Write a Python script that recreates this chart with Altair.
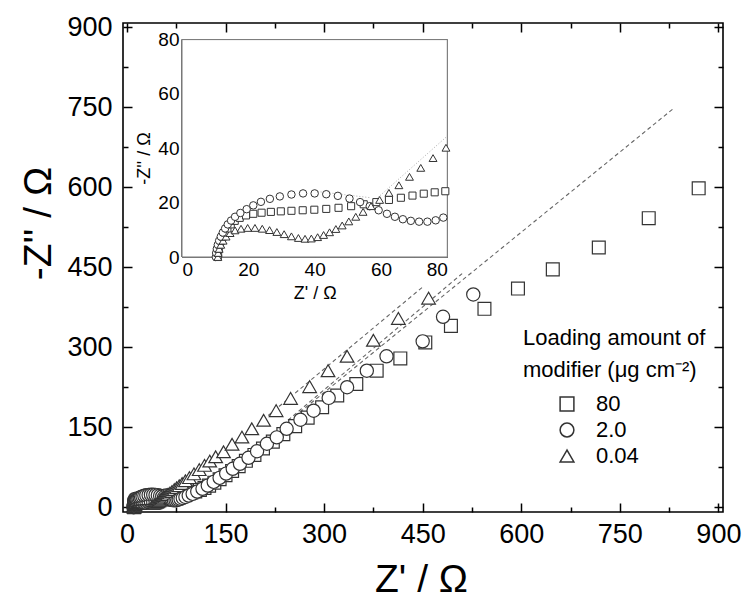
import altair as alt
import pandas as pd

# ---------------- data (Z' , -Z'' in ohm) ----------------
series_names = ["80", "2.0", "0.04"]
series_shapes = ["square", "circle", "triangle-up"]
series_sizes = [165, 185, 230]
inset_sizes = [50, 62, 80]

sq_x = [10.8, 10.9, 11.1, 11.4, 11.8, 12.3, 12.9, 13.7, 14.7, 15.9, 17.4, 19.3, 21.5, 24.0, 26.8,
        29.8, 33.0, 36.4, 39.9, 43.5, 47.2, 51.0, 54.8, 58.6, 62.4, 66.0, 69.5, 72.9, 76.2, 79.4,
        83, 87, 92, 98, 104, 111, 118, 125, 133, 141, 150, 160, 170, 181, 194, 207, 222, 238, 256,
        275, 297, 320, 349, 380, 416, 454, 493, 544, 595, 648, 718, 794, 870]
sq_y = [0, 1.5, 3, 4.5, 6, 7.5, 9, 10.5, 12, 13.3, 14.4, 15.3, 15.9, 16.3, 16.6,
        16.8, 17.0, 17.2, 17.4, 17.7, 18.1, 18.7, 19.4, 20.2, 21.0, 21.8, 22.6, 23.3, 23.8, 24.2,
        24.7, 25.2, 26, 27.5, 29.5, 32.5, 36, 40.5, 46, 52.5, 60, 68, 77, 87, 98, 110, 123, 137, 152,
        168, 187.5, 209.5, 231, 256, 279, 309, 340, 372, 410, 446, 487, 542, 598]

ci_x = [10.2, 10.3, 10.5, 10.8, 11.2, 11.7, 12.3, 13.0, 13.8, 14.8, 16.0, 17.6, 19.5, 21.5, 23.8,
        26.5, 29.5, 33.0, 36.5, 40.0, 43.5, 47.0, 50.5, 53.7, 56.6, 59.3, 61.8, 64.2, 66.6, 69.0,
        71.5, 74.0, 76.5, 78.8,
        81.5, 85, 89, 94, 100, 107, 115, 123, 132, 141, 151, 161, 172, 185, 198, 213, 228, 243,
        264, 284, 307, 335, 365, 395, 450, 481, 527]
ci_y = [0, 1.5, 3, 4.5, 6, 7.5, 9, 10.5, 12, 13.4, 14.8, 16.2, 17.6, 19.0, 20.3,
        21.4, 22.3, 23.0, 23.4, 23.4, 23.1, 22.5, 21.5, 20.2, 18.7, 17.2, 15.9, 14.8, 13.9, 13.3,
        13.0, 13.0, 13.5, 14.5,
        15.8, 17.3, 19.2, 21.8, 25, 29.3, 34.5, 40.5, 47.5, 55, 63, 72, 81.4, 92.6, 105, 119, 131, 147,
        164, 181, 205, 225, 256, 283, 311, 357, 399]

tr_x = [10.8, 10.9, 11.2, 11.7, 12.4, 13.3, 14.5, 16.0, 17.8, 19.8, 22.0, 24.2, 26.4, 28.6, 30.8,
        33.0, 35.1, 37.1, 39.0, 40.9, 42.7, 44.5, 46.4, 48.3, 50.3, 52.4, 54.6, 57.0, 59.6, 62.4,
        65.4, 68.6, 72.0, 75.7, 79.6,
        84, 89, 95, 102, 110, 118, 126, 135, 147, 160, 175, 190, 208, 227, 249, 278, 306, 335,
        375, 413, 459]
tr_y = [0, 1.5, 3, 4.5, 6, 7.5, 8.8, 9.8, 10.4, 10.7, 10.7, 10.4, 9.9, 9.2, 8.4,
        7.6, 7.0, 6.7, 6.8, 7.3, 8.1, 9.1, 10.3, 11.6, 13.1, 14.8, 16.6, 18.7, 21.0, 23.6,
        26.4, 29.5, 32.8, 36.4, 40.2,
        44.5, 49.5, 55.5, 62.5, 70.5, 78.5, 86.5, 94.5, 104, 118, 131.5, 147, 163, 181, 204, 226, 256, 283,
        313, 354, 392]

# linear (Warburg) fits drawn as dashed lines in the main plot
fit_name = ["80", "80", "2.0", "2.0", "0.04", "0.04"]
fit_x = [255, 831, 245, 510, 215, 451]
fit_y = [170, 747, 163, 438, 172, 414]

# faint dotted fit curves in the inset
ifit_name = ["0.04", "0.04", "2.0", "2.0"]
ifit_x = [55, 80, 40, 57]
ifit_y = [17.5, 44.5, 24.2, 21.8]

main_x_ticks = [0, 150, 300, 450, 600, 750, 900]
main_x_minor = [75, 225, 375, 525, 675, 825]
main_y_ticks = [0, 150, 300, 450, 600, 750, 900]
main_y_minor = [75, 225, 375, 525, 675, 825]
inset_ticks = [0, 10, 20, 30, 40, 50, 60, 70, 80]
inset_domain = [0, 80]

# ---------------- tables ----------------
rows = []
for name, xs, ys in zip(series_names, [sq_x, ci_x, tr_x], [sq_y, ci_y, tr_y]):
    for i, (a, b) in enumerate(zip(xs, ys)):
        rows.append({"zr": a, "zi": b, "s": name, "i": i})
pts = pd.DataFrame(rows)
inset_pts = pts[(pts.zr <= 80.5) & (pts.zi <= 80)]
fits = pd.DataFrame({"zr": fit_x, "zi": fit_y, "s": fit_name})
ifits = pd.DataFrame({"zr": ifit_x, "zi": ifit_y, "s": ifit_name})

# ---------------- geometry of panels ----------------
W, H = 600, 489
FONT = "Liberation Sans"
INK = "#333333"

mx = alt.Scale(domain=[-6, 907], nice=False, zero=False)
my = alt.Scale(domain=[-9, 908], nice=False, zero=False)
ix = alt.Scale(domain=inset_domain, range=[59, 324.3], nice=False, zero=False)
iy = alt.Scale(domain=inset_domain, range=[234, 16.6], nice=False, zero=False)

shape_scale = alt.Scale(domain=series_names, range=series_shapes)

def ax(orient, values, size, offset, labels=True, title=None, fs=27, lp=6, extra=None):
    kw = dict(orient=orient, values=values, tickSize=size, offset=offset, domain=False,
              grid=False, tickColor="black", tickWidth=1.5, labels=labels,
              labelFont=FONT, labelFontSize=fs, labelColor="black", labelPadding=lp,
              titleFont=FONT, titleColor="black", titleFontWeight="normal")
    kw["title"] = title if title is not None else None
    if extra:
        kw.update(extra)
    return alt.Axis(**kw)

# main data
main_pts = alt.Chart(pts).mark_point(filled=False, fill="white", fillOpacity=1, stroke=INK,
                                     strokeWidth=1.2, opacity=1).encode(
    x=alt.X("zr:Q", scale=mx,
            axis=ax("bottom", main_x_ticks, 9, -9, title="Z' / Ω", lp=9,
                    extra=dict(titleFontSize=39, titleX=298, titleY=76,
                               titleBaseline="middle", titleAlign="center"))),
    y=alt.Y("zi:Q", scale=my,
            axis=ax("left", main_y_ticks, 9, -9, title="-Z'' / Ω", lp=11,
                    extra=dict(titleFontSize=39, titleX=-94, titleY=200, titleAngle=-90,
                               titleBaseline="middle", titleAlign="center"))),
    shape=alt.Shape("s:N", scale=shape_scale, legend=alt.Legend(
        orient="none", legendX=400, legendY=305,
        title=["Loading amount of", "modifier (μg cm⁻²)"], titleLimit=400,
        titleFont=FONT, titleFontSize=22, titleFontWeight="normal", titleColor="black",
        titleLineHeight=32, titlePadding=11,
        labelFont=FONT, labelFontSize=22, labelColor="black", labelOffset=18,
        symbolOffset=33, symbolSize=190, rowPadding=4)),
    size=alt.Size("s:N", scale=alt.Scale(domain=series_names, range=series_sizes), legend=None),
    order=alt.Order("i:Q"),
)
main_lines = alt.Chart(fits).mark_line(color="#666666", strokeWidth=1.1, strokeDash=[4, 3]).encode(
    x=alt.X("zr:Q", scale=mx), y=alt.Y("zi:Q", scale=my), detail="s:N")
main_group = alt.layer(main_lines, main_pts)

def tick_layer(xs, ys, xaxis, yaxis):
    return alt.Chart(fits).mark_point(opacity=0).encode(
        x=alt.X("zr:Q", scale=xs, axis=xaxis), y=alt.Y("zi:Q", scale=ys, axis=yaxis))

minor_bl = tick_layer(mx, my, ax("bottom", main_x_minor, 5, -5, labels=False),
                      ax("left", main_y_minor, 5, -5, labels=False))
major_tr = tick_layer(mx, my, ax("top", main_x_ticks, 9, -9, labels=False),
                      ax("right", main_y_ticks, 9, -9, labels=False))
minor_tr = tick_layer(mx, my, ax("top", main_x_minor, 5, -5, labels=False),
                      ax("right", main_y_minor, 5, -5, labels=False))

# inset
IT = 3
lab20 = "datum.value % 20 == 0 ? datum.label : ''"
inset_bg = alt.Chart(fits).mark_rect(fill="white", stroke="#777777", strokeWidth=1).encode(
    x=alt.X(datum=inset_domain[0], type="quantitative", scale=ix,
            axis=ax("bottom", inset_ticks, IT, (234 - IT) - H, title="Z' / Ω", fs=19, lp=3,
                    extra=dict(labelExpr=lab20, titleFontSize=18, titlePadding=5,
                               tickColor="#555555", tickWidth=1))),
    x2=alt.X2(datum=inset_domain[1]),
    y=alt.Y(datum=inset_domain[0], type="quantitative", scale=iy,
            axis=ax("left", inset_ticks, IT, -(59 + IT), title="-Z'' / Ω", fs=19, lp=3,
                    extra=dict(labelExpr=lab20, titleFontSize=18, titleX=-41, titleY=135,
                               titleAngle=-90, titleBaseline="middle", titleAlign="center",
                               tickColor="#555555", tickWidth=1))),
    y2=alt.Y2(datum=inset_domain[1]),
)
inset_lines = alt.Chart(ifits).mark_line(color="#aaaaaa", strokeWidth=1, strokeDash=[1, 2]).encode(
    x=alt.X("zr:Q", scale=ix), y=alt.Y("zi:Q", scale=iy), detail="s:N")
inset_marks = alt.Chart(inset_pts).mark_point(filled=False, fill="white", fillOpacity=1, stroke=INK,
                                              strokeWidth=1, opacity=1).encode(
    x=alt.X("zr:Q", scale=ix), y=alt.Y("zi:Q", scale=iy),
    shape=alt.Shape("s:N", scale=shape_scale, legend=None),
    size=alt.Size("s:N", scale=alt.Scale(domain=series_names, range=inset_sizes), legend=None),
    order=alt.Order("i:Q"),
)
inset_group = alt.layer(inset_bg, inset_lines, inset_marks)
inset_tr = tick_layer(ix, iy,
                      ax("top", inset_ticks, IT, -(16.6 + IT), labels=False,
                         extra=dict(tickColor="#555555", tickWidth=1)),
                      ax("right", inset_ticks, IT, (324.3 - IT) - W, labels=False,
                         extra=dict(tickColor="#555555", tickWidth=1)))

chart = alt.layer(main_group, minor_bl, major_tr, minor_tr, inset_group, inset_tr).resolve_scale(
    x="independent", y="independent", size="independent"
).properties(
    width=W, height=H,
    autosize=alt.AutoSizeParams(type="none"),
    padding={"left": 123, "top": 23, "right": 21, "bottom": 89},
    background="white",
).configure_view(stroke="black", strokeWidth=1.6)

chart.save("out.html", embed_options={"renderer": "svg", "actions": False})
